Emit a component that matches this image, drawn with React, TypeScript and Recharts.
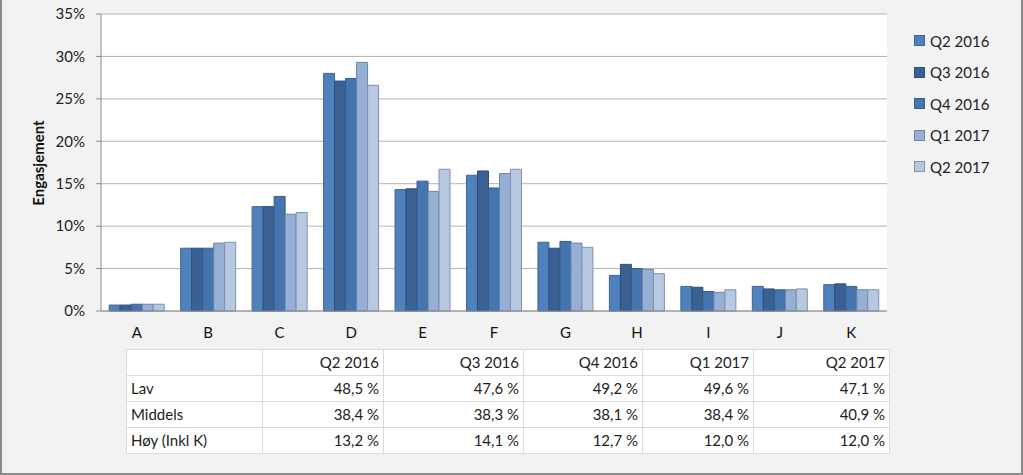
import { BarChart, Bar, XAxis, YAxis, CartesianGrid } from "recharts";

// kategorier og kvartaler
const kategorier = ["A", "B", "C", "D", "E", "F", "G", "H", "I", "J", "K"];
const kvartaler = ["Q2 2016", "Q3 2016", "Q4 2016", "Q1 2017", "Q2 2017"];

// andel (%) per kategori, én liste per kvartal
const q2_2016 = [0.7, 7.4, 12.3, 28.0, 14.3, 16.0, 8.1, 4.2, 2.9, 2.9, 3.1];
const q3_2016 = [0.7, 7.4, 12.3, 27.1, 14.4, 16.5, 7.4, 5.5, 2.8, 2.6, 3.2];
const q4_2016 = [0.8, 7.4, 13.5, 27.4, 15.3, 14.5, 8.2, 5.0, 2.3, 2.5, 2.9];
const q1_2017 = [0.8, 8.0, 11.4, 29.3, 14.1, 16.2, 8.0, 4.9, 2.2, 2.5, 2.5];
const q2_2017 = [0.8, 8.1, 11.6, 26.6, 16.7, 16.7, 7.5, 4.4, 2.5, 2.6, 2.5];
const serier = [q2_2016, q3_2016, q4_2016, q1_2017, q2_2017];

const yTicks = [0, 5, 10, 15, 20, 25, 30, 35];

// tabell under grafen
const radNavn = ["Lav", "Middels", "Høy (Inkl K)"];
const lav = ["48,5 %", "47,6 %", "49,2 %", "49,6 %", "47,1 %"];
const middels = ["38,4 %", "38,3 %", "38,1 %", "38,4 %", "40,9 %"];
const hoy = ["13,2 %", "14,1 %", "12,7 %", "12,0 %", "12,0 %"];
const tabellRader = [lav, middels, hoy];

const FARGER = ["#4f81bd", "#3b6194", "#4674ae", "#95afd5", "#b9c8e1"];
const KANTER = ["#3d6596", "#2f4e78", "#355d8d", "#6a84a8", "#7d91b0"];
const FONT = "Lato, 'Open Sans', sans-serif";

const data = kategorier.map((k, i) => {
  const rad: Record<string, string | number> = { kat: k };
  kvartaler.forEach((q, j) => {
    rad[q] = serier[j][i];
  });
  return rad;
});

const kolBredder = [136, 121, 140, 119, 111, 136];

function Forklaring() {
  return (
    <div
      style={{
        position: "absolute",
        left: 912,
        top: 25,
        fontFamily: FONT,
        fontSize: 15,
        color: "#222",
      }}
    >
      {kvartaler.map((q, i) => (
        <div key={q} style={{ display: "flex", alignItems: "center", height: 31.5 }}>
          <span
            style={{
              width: 9,
              height: 9,
              background: FARGER[i],
              border: `1px solid ${KANTER[i]}`,
              marginRight: 5,
              display: "inline-block",
            }}
          />
          {q}
        </div>
      ))}
    </div>
  );
}

export default function App() {
  const celle = {
    border: "1px solid #dadada",
    padding: "0 4px",
    height: 25,
    lineHeight: "25px",
  } as const;
  return (
    <div
      style={{
        position: "absolute",
        left: 0,
        top: 0,
        width: 1023,
        height: 475,
        boxSizing: "border-box",
        background: "#f2f2f2",
        borderLeft: "2px solid #8a8a8a",
        borderRight: "2px solid #8a8a8a",
        borderBottom: "2px solid #8a8a8a",
        fontFamily: FONT,
        overflow: "hidden",
      }}
    >
      <div style={{ position: "absolute", left: -2, top: 0 }}>
        <BarChart
          width={1023}
          height={350}
          data={data}
          margin={{ top: 14, right: 136, left: 15, bottom: 9 }}
          barCategoryGap="11.5%"
          barGap={0}
        >
          <CartesianGrid vertical={false} stroke="#b3b3b3" fill="#ffffff" />
          <XAxis
            dataKey="kat"
            axisLine={{ stroke: "#8c8c8c" }}
            tickLine={false}
            tickSize={0}
            tickMargin={16}
            height={30}
            tick={{ fontSize: 15, fill: "#111", fontFamily: FONT }}
          />
          <YAxis
            domain={[0, 35]}
            ticks={yTicks}
            interval={0}
            width={86}
            tickFormatter={(v: number) => `${v}%`}
            axisLine={{ stroke: "#8c8c8c" }}
            tickLine={{ stroke: "#8c8c8c" }}
            tickSize={5}
            tickMargin={11}
            tick={{ fontSize: 15, fill: "#222", fontFamily: FONT }}
          />
          {kvartaler.map((q, i) => (
            <Bar
              key={q}
              dataKey={q}
              fill={FARGER[i]}
              stroke={KANTER[i]}
              strokeWidth={1}
              isAnimationActive={false}
            />
          ))}
        </BarChart>
      </div>
      <Forklaring />
      <div
        style={{
          position: "absolute",
          left: 36,
          top: 163,
          transform: "translate(-50%, -50%) rotate(-90deg)",
          fontSize: 15,
          fontWeight: 700,
          color: "#111",
          whiteSpace: "nowrap",
        }}
      >
        Engasjement
      </div>
      <table
        style={{
          position: "absolute",
          left: 124,
          top: 349,
          borderCollapse: "collapse",
          background: "#ffffff",
          fontSize: 15,
          color: "#222",
          tableLayout: "fixed",
        }}
      >
        <colgroup>
          {kolBredder.map((b, i) => (
            <col key={i} style={{ width: b }} />
          ))}
        </colgroup>
        <tbody>
          <tr>
            <td style={celle}></td>
            {kvartaler.map((q) => (
              <td key={q} style={{ ...celle, textAlign: "right" }}>
                {q}
              </td>
            ))}
          </tr>
          {radNavn.map((navn, r) => (
            <tr key={navn}>
              <td style={celle}>{navn}</td>
              {tabellRader[r].map((v, j) => (
                <td key={j} style={{ ...celle, textAlign: "right" }}>
                  {v}
                </td>
              ))}
            </tr>
          ))}
        </tbody>
      </table>
    </div>
  );
}
